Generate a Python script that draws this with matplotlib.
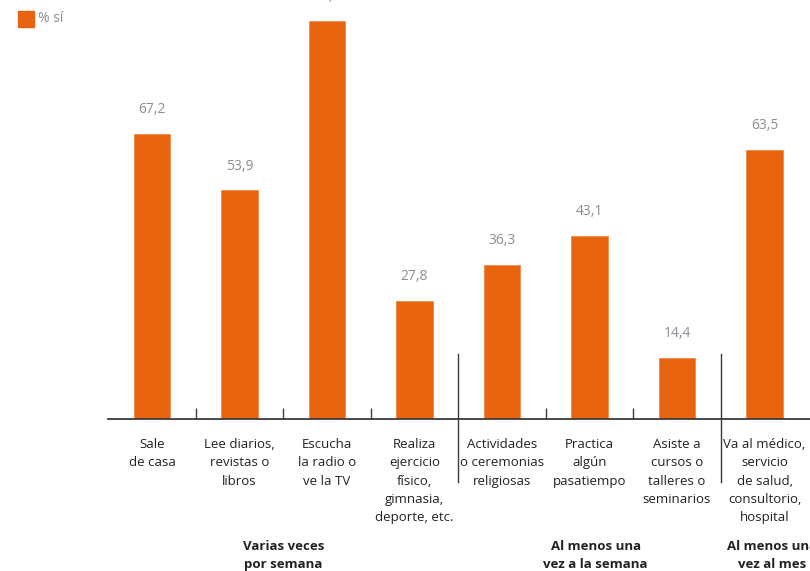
import matplotlib
matplotlib.use("Agg")
import matplotlib.pyplot as plt

plt.rcParams['font.family'] = ['Open Sans', 'DejaVu Sans']

# porcentaje que responde "sí" para cada actividad
categorias = [
    "Sale\nde casa",
    "Lee diarios,\nrevistas o\nlibros",
    "Escucha\nla radio o\nve la TV",
    "Realiza\nejercicio\nfísico,\ngimnasia,\ndeporte, etc.",
    "Actividades\no ceremonias\nreligiosas",
    "Practica\nalgún\npasatiempo",
    "Asiste a\ncursos o\ntalleres o\nseminarios",
    "Va al médico,\nservicio\nde salud,\nconsultorio,\nhospital",
]
valores = [67.2, 53.9, 93.9, 27.8, 36.3, 43.1, 14.4, 63.5]

grupos = ["Varias veces\npor semana", "Al menos una\nvez a la semana", "Al menos una\nvez al mes"]
grupo_x = [1.5, 5.07, 7.09]
separadores = [3.5, 6.5]
ticks_menores = [0.5, 1.5, 2.5, 4.5, 5.5]

naranja = "#E8640F"
gris = "#8A8D93"
linea = "#3A3A3A"
texto = "#222222"

fig = plt.figure(figsize=(8.10, 5.71), dpi=100)
ax = fig.add_axes([108 / 810, 152 / 571, 702 / 810, 419 / 571])

x = list(range(len(valores)))
ax.bar(x, valores, width=0.42, color=naranja, edgecolor="#F08A4A", linewidth=0.6, zorder=2)

for xi, v in zip(x, valores):
    ax.annotate(f"{v:.1f}".replace(".", ","), (xi, v), xytext=(0, 17.5), textcoords="offset points",
                ha="center", va="center", fontsize=10, color=gris, annotation_clip=False)

ax.set_xlim(-0.503, 7.52)
ax.set_ylim(0, 98.8)
for s in ["top", "left", "right"]:
    ax.spines[s].set_visible(False)
ax.spines["bottom"].set_color(linea)
ax.spines["bottom"].set_linewidth(1.3)
ax.set_yticks([])
ax.set_xticks(ticks_menores)
ax.tick_params(axis="x", direction="in", length=8, width=1, color=linea, labelbottom=False)

tr = ax.get_xaxis_transform()
for sx in separadores:
    ax.plot([sx, sx], [0.155, -0.150], color=linea, lw=1, transform=tr, clip_on=False)

for xi, c in zip(x, categorias):
    ax.text(xi, -0.046, c, transform=tr, ha="center", va="top", fontsize=9.5,
            color=texto, linespacing=1.52)

for gx, g in zip(grupo_x, grupos):
    ax.text(gx, -0.289, g, transform=tr, ha="center", va="top", fontsize=9.5,
            fontweight="bold", color=texto, linespacing=1.5)

# leyenda
fig.patches.append(plt.Rectangle((18 / 810, 1 - 27 / 571), 16 / 810, 16 / 571,
                                 transform=fig.transFigure, color=naranja))
fig.text(38 / 810, 1 - 19 / 571, "% sí", fontsize=10, color=gris, va="center", ha="left")

fig.savefig("out.png", dpi=100)
